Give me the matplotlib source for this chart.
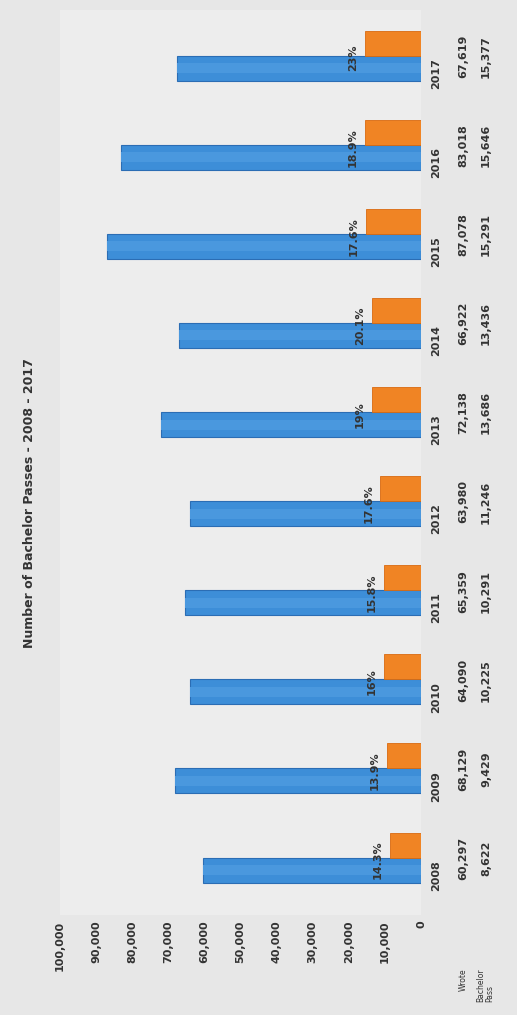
import numpy as np
import matplotlib.pyplot as plt

# --- Data ---
years = ["2008", "2009", "2010", "2011", "2012", "2013", "2014", "2015", "2016", "2017"]
wrote = [60297, 68129, 64090, 65359, 63980, 72138, 66922, 87078, 83018, 67619]
bachelor = [8622, 9429, 10225, 10291, 11246, 13686, 13436, 15291, 15646, 15377]
pct_labels = ["14.3%", "13.9%", "16%", "15.8%", "17.6%", "19%", "20.1%", "17.6%", "18.9%", "23%"]
value_ticks = [0, 10000, 20000, 30000, 40000, 50000, 60000, 70000, 80000, 90000, 100000]

W, H = 517, 1015
BLUE = "#3d8ed8"
BLUE_EDGE = "#2b6db4"
ORANGE = "#f08424"
TXT = "#333333"

fig = plt.figure(figsize=(W / 100, H / 100), dpi=100, facecolor="#e7e7e7")

# chart is drawn rotated: values run right-to-left, years bottom-to-top
x0, x1 = 60, 421      # pixel x of 100,000 and 0
yb, yt = 915, 10      # pixel y of axes bottom / top
ax = fig.add_axes([x0 / W, (H - yb) / H, (x1 - x0) / W, (yb - yt) / H])
ax.set_facecolor("#ededed")

step = 89.1
ax.set_ylim((870 - yb) / step, (870 - yt) / step)
ax.set_xlim(100000, 0)

pos = np.arange(len(years))
bh = 25 / step
ax.barh(pos, wrote, height=bh, color=BLUE, edgecolor=BLUE_EDGE, linewidth=0.8, zorder=2)
ax.barh(pos, wrote, height=bh * 0.4, color="#4a98de", linewidth=0, zorder=3)
ax.barh(pos + bh, bachelor, height=bh, color=ORANGE, edgecolor="#d96a10", linewidth=0.6, zorder=2)

for i in range(len(years)):
    ax.annotate(pct_labels[i], (bachelor[i], pos[i] + bh - 0.17), xytext=(-5, 0),
                textcoords="offset points", rotation=90, ha="right", va="center",
                fontsize=8, color=TXT, fontweight="bold")

for s in ax.spines.values():
    s.set_visible(False)
ax.set_xticks(value_ticks)
ax.set_xticklabels([f"{v:,}" for v in value_ticks], rotation=90, fontsize=8,
                   color=TXT, fontweight="bold")
ax.tick_params(axis="x", length=0, pad=4)
ax.set_yticks([])

# category labels and data table under the chart
for i in range(len(years)):
    y_blue = pos[i] - 0.06
    y_grp = pos[i] + bh / 2 - 0.01
    ax.text(-4200, y_blue, years[i], rotation=90, ha="center", va="center",
            fontsize=8, color=TXT, fontweight="bold", clip_on=False)
    ax.text(-11800, y_grp, f"{wrote[i]:,}", rotation=90, ha="center", va="center",
            fontsize=8, color=TXT, fontweight="bold", clip_on=False)
    ax.text(-18000, y_grp, f"{bachelor[i]:,}", rotation=90, ha="center", va="center",
            fontsize=8, color=TXT, fontweight="bold", clip_on=False)

fig.text(463 / W, 1 - 980 / H, "Wrote", rotation=90, ha="center", va="center",
         fontsize=5.5, color=TXT)
fig.text(485 / W, 1 - 985 / H, "Bachelor\nPass", rotation=90, ha="center", va="center",
         fontsize=5.5, color=TXT, linespacing=1.0, multialignment="left")

fig.text(30 / W, 1 - 503 / H, "Number of Bachelor Passes - 2008 - 2017", rotation=90,
         ha="center", va="center", fontsize=9, color=TXT, fontweight="bold")

plt.savefig("out.png", dpi=100, facecolor=fig.get_facecolor())
